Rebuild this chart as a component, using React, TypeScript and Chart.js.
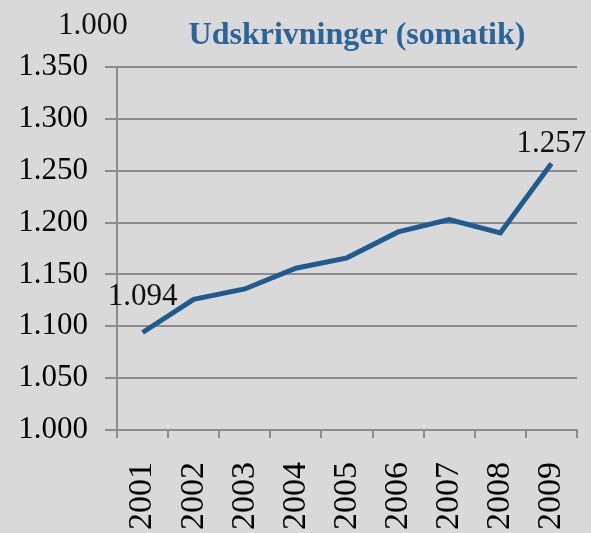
import React, { useEffect, useRef } from "react";
import { Chart, registerables } from "chart.js";

Chart.register(...registerables);

const years = ["2001", "2002", "2003", "2004", "2005", "2006", "2007", "2008", "2009"];
const discharges = [1094, 1126, 1136, 1156, 1166, 1191, 1203, 1190, 1257];
const yMin = 1000;
const yMax = 1350;
const yStep = 50;
const unitLabel = "1.000";
const titleText = "Udskrivninger (somatik)";
const labeledIndices = [0, 8];
const labelOffsets = [28, 11];

const FONT = "'Liberation Serif', 'Times New Roman', serif";
const BG = "#d9d9d9";
const GRID = "#8c8c8c";
const LINE = "#1f5b8f";
const TITLE_COLOR = "#2c6399";

function fmt(v: number): string {
  const s = Math.round(v).toString();
  return s.length > 3 ? s.slice(0, -3) + "." + s.slice(-3) : s;
}

const decorPlugin = {
  id: "decor",
  beforeDraw(chart: any) {
    const ctx = chart.ctx;
    ctx.save();
    ctx.fillStyle = BG;
    ctx.fillRect(0, 0, chart.width, chart.height);
    ctx.restore();
  },
  afterDraw(chart: any) {
    const ctx = chart.ctx;
    ctx.save();
    ctx.textBaseline = "alphabetic";
    ctx.fillStyle = "#111";
    ctx.font = `31px ${FONT}`;
    ctx.textAlign = "left";
    ctx.fillText(unitLabel, 58, 34);

    ctx.fillStyle = TITLE_COLOR;
    ctx.font = `bold 32px ${FONT}`;
    ctx.textAlign = "center";
    ctx.fillText(titleText, 357, 44);

    const meta = chart.getDatasetMeta(0);
    ctx.fillStyle = "#111";
    ctx.font = `31px ${FONT}`;
    labeledIndices.forEach((idx, k) => {
      const pt = meta.data[idx];
      if (!pt) return;
      ctx.fillText(fmt(discharges[idx]), pt.x, pt.y - labelOffsets[k]);
    });
    ctx.restore();
  },
};

export default function App() {
  const ref = useRef<HTMLCanvasElement | null>(null);

  useEffect(() => {
    if (!ref.current) return;
    const chart = new Chart(ref.current, {
      type: "line",
      data: {
        labels: years,
        datasets: [
          {
            data: discharges,
            borderColor: LINE,
            borderWidth: 5,
            pointRadius: 0,
            tension: 0,
            fill: false,
          },
        ],
      },
      options: {
        responsive: false,
        animation: false,
        devicePixelRatio: 1,
        layout: { padding: { top: 67, right: 14, left: 0, bottom: 0 } },
        plugins: {
          legend: { display: false },
          tooltip: { enabled: false },
          title: { display: false },
        },
        scales: {
          x: {
            type: "category",
            offset: true,
            grid: {
              offset: true,
              drawOnChartArea: false,
              drawTicks: true,
              tickLength: 8,
              color: GRID,
              lineWidth: 2,
            },
            border: { display: true, color: GRID, width: 2 },
            ticks: {
              minRotation: 90,
              maxRotation: 90,
              autoSkip: false,
              padding: 24,
              color: "#000",
              font: { family: FONT, size: 34 },
            },
            afterFit: (s: any) => {
              s.height = 103;
              s.paddingLeft = 0;
              s.paddingRight = 0;
            },
          },
          y: {
            min: yMin,
            max: yMax,
            ticks: {
              stepSize: yStep,
              padding: 17,
              color: "#000",
              font: { family: FONT, size: 31 },
              callback: (v: any) => fmt(Number(v)),
            },
            grid: { color: GRID, lineWidth: 2, tickLength: 12 },
            border: { display: true, color: GRID, width: 2 },
            afterFit: (s: any) => {
              s.width = 117;
            },
          },
        },
      },
      plugins: [decorPlugin],
    });
    return () => chart.destroy();
  }, []);

  return (
    <div
      style={{
        position: "fixed",
        left: 0,
        top: 0,
        width: 591,
        height: 533,
        background: BG,
        overflow: "hidden",
      }}
    >
      <canvas ref={ref} width={591} height={533} style={{ display: "block" }} />
    </div>
  );
}
